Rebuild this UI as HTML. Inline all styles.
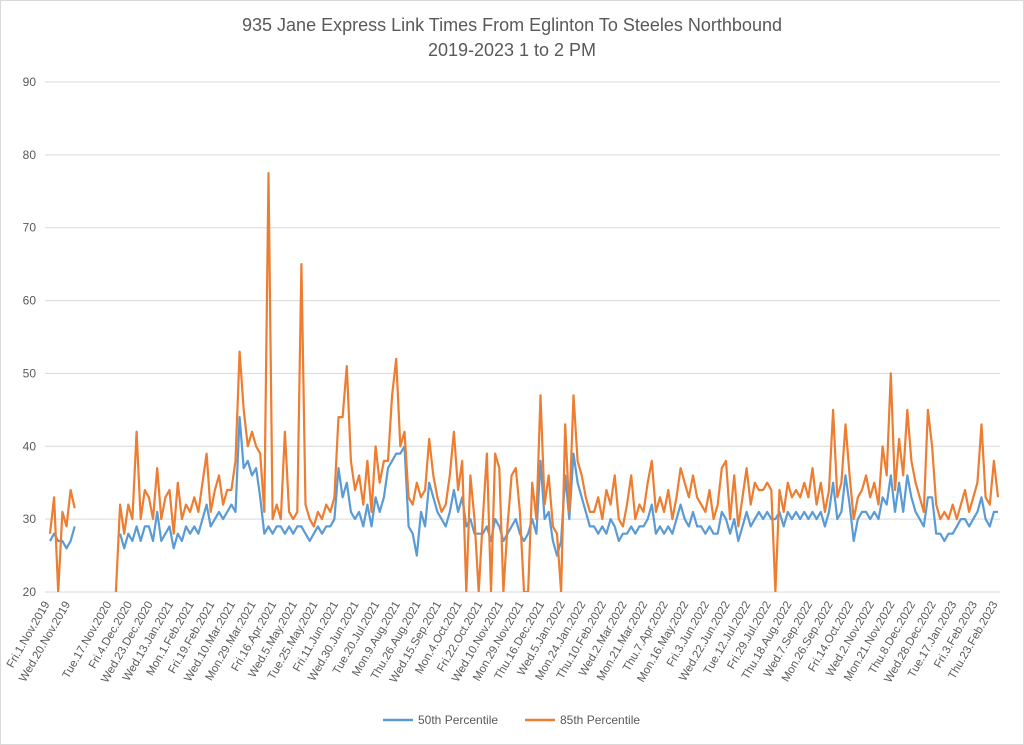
<!DOCTYPE html>
<html><head><meta charset="utf-8"><style>
html,body{margin:0;padding:0;background:#fff}
svg{display:block;font-family:"Liberation Sans",sans-serif}
</style></head><body>
<svg id="chart" width="1024" height="745" viewBox="0 0 1024 745">
<rect x="0.5" y="0.5" width="1023" height="744" fill="#fff" stroke="#d9d9d9"/>
<text x="512" y="31" text-anchor="middle" font-size="18" fill="#595959">935 Jane Express Link Times From Eglinton To Steeles Northbound</text>
<text x="512" y="56" text-anchor="middle" font-size="18" fill="#595959">2019-2023 1 to 2 PM</text>
<g id="grid"></g><g id="yticks"></g><g id="xticks"></g>
<clipPath id="pc"><rect x="45" y="70" width="960" height="522"/></clipPath>
<g id="series" clip-path="url(#pc)"></g>
<g>
<line x1="383" y1="720" x2="413" y2="720" stroke="#5b9bd5" stroke-width="2.5"/>
<text x="418" y="724" font-size="12" fill="#595959">50th Percentile</text>
<line x1="525" y1="720" x2="555" y2="720" stroke="#ed7d31" stroke-width="2.5"/>
<text x="560" y="724" font-size="12" fill="#595959">85th Percentile</text>
</g>
</svg>
<script>
const categories=["Fri.1.Nov.2019","Wed.20.Nov.2019","","Tue.17.Nov.2020","Fri.4.Dec.2020","Wed.23.Dec.2020","Wed.13.Jan.2021","Mon.1.Feb.2021","Fri.19.Feb.2021","Wed.10.Mar.2021","Mon.29.Mar.2021","Fri.16.Apr.2021","Wed.5.May.2021","Tue.25.May.2021","Fri.11.Jun.2021","Wed.30.Jun.2021","Tue.20.Jul.2021","Mon.9.Aug.2021","Thu.26.Aug.2021","Wed.15.Sep.2021","Mon.4.Oct.2021","Fri.22.Oct.2021","Wed.10.Nov.2021","Mon.29.Nov.2021","Thu.16.Dec.2021","Wed.5.Jan.2022","Mon.24.Jan.2022","Thu.10.Feb.2022","Wed.2.Mar.2022","Mon.21.Mar.2022","Thu.7.Apr.2022","Mon.16.May.2022","Fri.3.Jun.2022","Wed.22.Jun.2022","Tue.12.Jul.2022","Fri.29.Jul.2022","Thu.18.Aug.2022","Wed.7.Sep.2022","Mon.26.Sep.2022","Fri.14.Oct.2022","Wed.2.Nov.2022","Mon.21.Nov.2022","Thu.8.Dec.2022","Wed.28.Dec.2022","Tue.17.Jan.2023","Fri.3.Feb.2023","Thu.23.Feb.2023"];
const yTicks=[20,30,40,50,60,70,80,90];
const p85=[28,33,20,31,29,34,31.5,
null,null,null,null,null,null,null,null,null,
20,32,28,32,30,42,30,
34,33,30,37,30,33,34,28,
35,30,32,31,33,31,35,39,
31,34,36,32,34,34,38,53,
45,40,42,40,39,31,77.5,
30,32,30,42,31,30,31,65,
32,30,29,31,30,32,31,33,
44,44,51,38,34,
36,32,38,31,40,35,38,
38,47,52,40,42,33,32,
35,33,34,41,36,33,31,
32,36,42,34,38,20,36,30,
20,30,39,20,39,37,20,29,
36,37,31,20,20,35,30,
47,32,36,29,28,20,
43,31,47,38,36,33,31,
31,33,30,34,32,36,30,29,32,
36,30,32,31,35,38,31,33,
31,34,30,33,37,35,33,36,
33,32,31,34,30,32,37,38,
30,36,29,33,37,32,35,34,
34,35,34,20,34,
31,35,33,34,33,35,33,37,
32,35,31,34,45,33,35,
43,36,30,33,34,
36,33,35,32,40,36,50,34,
41,36,45,38,35,33,31,
45,40,32,30,31,30,32,30,
32,34,31,33,35,43,33,32,38,33];
const p50=[27,28,27,27,26,27,29,
null,null,null,null,null,null,null,null,null,
null,28,26,28,27,29,27,
29,29,27,31,27,28,29,26,
28,27,29,28,29,28,30,32,
29,30,31,30,31,32,31,44,
37,38,36,37,33,28,29,
28,29,29,28,29,28,29,29,
28,27,28,29,28,29,29,30,
37,33,35,31,30,
31,29,32,29,33,31,33,
37,38,39,39,40,29,28,
25,31,29,35,33,31,30,
29,31,34,31,33,29,30,28,
28,28,29,27,30,29,27,28,
29,30,28,27,28,30,28,
38,30,31,27,25,27,
36,30,39,35,33,31,29,
29,28,29,28,30,29,27,28,28,
29,28,29,29,30,32,28,29,
28,29,28,30,32,30,29,31,
29,29,28,29,28,28,31,30,
28,30,27,29,31,29,30,31,
30,31,30,30,31,
29,31,30,31,30,31,30,31,
30,31,29,31,35,30,31,
36,32,27,30,31,
31,30,31,30,33,32,36,31,
35,31,36,33,31,30,29,
33,33,28,28,27,28,28,29,
30,30,29,30,31,33,30,29,31,31];
const NS="http://www.w3.org/2000/svg";
const X0=50,X1=998,Y0=592,Y1=82,PER=5;
const nPts=(categories.length-1)*PER+1;
function xs(i){return X0+i*(X1-X0)/(nPts-1);}
function ys(v){return Y0-(v-20)/(90-20)*(Y0-Y1);}
function mk(t,a,p){const e=document.createElementNS(NS,t);for(const k in a)e.setAttribute(k,a[k]);p.appendChild(e);return e;}
const grid=document.getElementById('grid'),yt=document.getElementById('yticks'),xt=document.getElementById('xticks'),ser=document.getElementById('series');
yTicks.forEach(v=>{
 const l=mk('line',{x1:45,x2:1000,y1:ys(v),y2:ys(v),stroke:'#d9d9d9','stroke-width':1},grid);
 
 
 const t=mk('text',{x:36,y:ys(v)+4,'text-anchor':'end','font-size':12,fill:'#595959'},yt);
 t.textContent=v;
 
 
});
categories.forEach((c,k)=>{
 if(!c)return;
 const x=xs(k*PER);
 const t=mk('text',{x:x,y:604,'text-anchor':'end','font-size':11.5,fill:'#595959',transform:'rotate(-60 '+x+' 604)'},xt);
 t.textContent=c;
 
 
});
function draw(arr,color,name){
 let d='',pen=false;
 arr.forEach((v,i)=>{
  if(v===null||v===undefined){pen=false;return;}
  d+=(pen?'L':'M')+xs(i).toFixed(1)+' '+ys(v).toFixed(1);pen=true;
 });
 const p=mk('path',{d:d,fill:'none',stroke:color,'stroke-width':2.2,'stroke-linejoin':'round'},ser);
 
 
}
draw(p50,'#5b9bd5','series-50th-percentile');
draw(p85,'#ed7d31','series-85th-percentile');
</script>
</body></html>
